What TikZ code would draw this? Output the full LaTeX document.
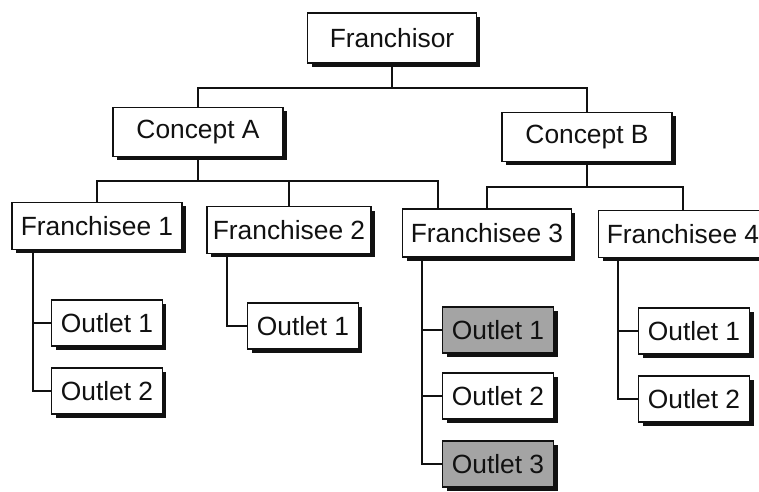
\documentclass[tikz,border=0pt]{standalone}
\usepackage{fontspec}
\setmainfont{Liberation Sans}
\usepackage{xcolor}
\usepackage{tikz}
\usetikzlibrary{positioning, calc, shadows}
\definecolor{frInk}{HTML}{111111}
\definecolor{frGray}{HTML}{A4A4A4}
\tikzset{
  unit/.style  ={draw=frInk, line width=0.9pt, fill=white, align=center, inner sep=2pt,
                 font=\fontsize{15}{18}\selectfont, text=frInk,
                 drop shadow={shadow xshift=0.08cm, shadow yshift=-0.08cm, fill=frInk, opacity=1}},
  shop/.style  ={unit, minimum width=2.22cm, minimum height=0.92cm},
  shopg/.style ={shop, fill=frGray},
  link/.style  ={line width=0.6pt, frInk},
}

\begin{document}
\begin{tikzpicture}[x=0.02cm, y=-0.02cm]
\useasboundingbox (0,0) rectangle (759,492);

% bus levels and trunk columns
\coordinate (bus0) at (0,88);
\coordinate (busA) at (0,181);
\coordinate (busB) at (0,187);
\coordinate (a3) at (438,0);
\coordinate (t1) at (33,0);
\coordinate (t2) at (227,0);
\coordinate (t3) at (422,0);
\coordinate (t4) at (618,0);

% ---- top levels ----
\node[unit, minimum width=3.38cm, minimum height=1.0cm] (root) at (392,38) {Franchisor};
\node[unit, minimum width=3.4cm, minimum height=0.98cm] (cA) at (198,132) {Concept A};
\node[unit, minimum width=3.4cm, minimum height=0.98cm] (cB) at (587,137) {Concept B};

% ---- franchisees ----
\node[unit, minimum width=3.4cm, minimum height=0.94cm]  (f1) at (97,226)  {Franchisee 1};
\node[unit, minimum width=3.28cm, minimum height=0.94cm] (f2) at (289,230) {Franchisee 2};
\node[unit, minimum width=3.38cm, minimum height=0.96cm] (f3) at (487,233) {Franchisee 3};
\node[unit, minimum width=3.38cm, minimum height=0.94cm] (f4) at (683,234) {Franchisee 4};

% ---- outlets ----
\node[shop]  (o11) at (107,323) {Outlet 1};
\node[shop]  (o12) at (107,391) {Outlet 2};
\node[shop]  (o21) at (303,326) {Outlet 1};
\node[shopg] (o31) at (498,330) {Outlet 1};
\node[shop]  (o32) at (498,396) {Outlet 2};
\node[shopg] (o33) at (498,464) {Outlet 3};
\node[shop]  (o41) at (694,331) {Outlet 1};
\node[shop]  (o42) at (694,399) {Outlet 2};

% ---- connectors ----
\draw[link] (root.south) -- (root.south |- bus0) -| (cA.north);
\draw[link] (root.south |- bus0) -| (cB.north);
\draw[link] (cA.south) -- (cA.south |- busA) -| (f1.north);
\draw[link] (cA.south |- busA) -| (f2.north);
\draw[link] (cA.south |- busA) -| (f3.north -| a3);
\draw[link] (cB.south) -- (cB.south |- busB) -| (f3.north);
\draw[link] (cB.south |- busB) -| (f4.north);

\draw[link] (o12.west) -| (f1.south -| t1);
\draw[link] (o21.west) -| (f2.south -| t2);
\draw[link] (o33.west) -| (f3.south -| t3);
\draw[link] (o42.west) -| (f4.south -| t4);
\foreach \o/\t in {o11/t1,o31/t3,o32/t3,o41/t4}{\draw[link] (\o.west) -- (\o.west -| \t);}
\end{tikzpicture}
\end{document}
